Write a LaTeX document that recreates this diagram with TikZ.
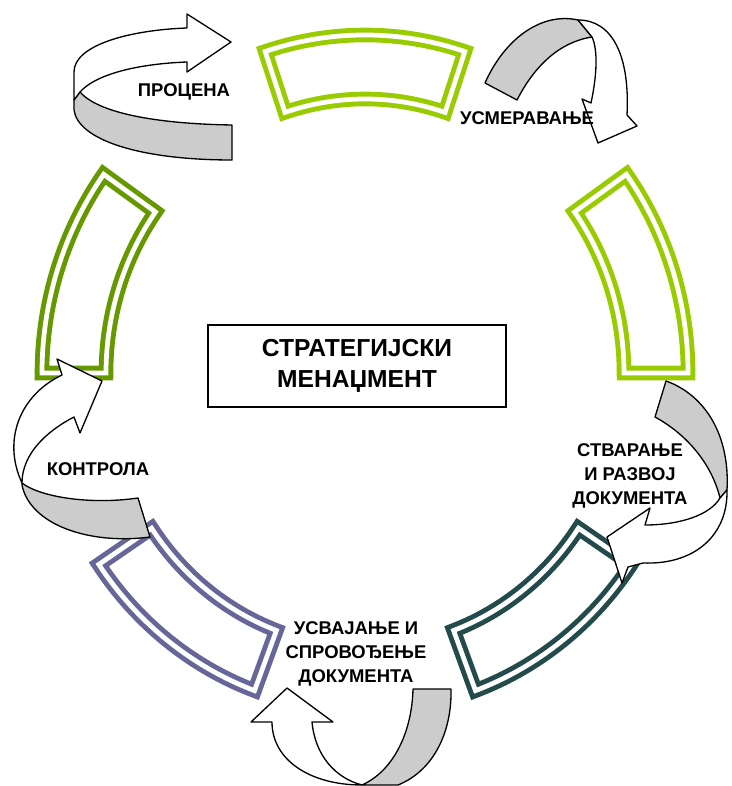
\documentclass[tikz,border=0pt]{standalone}
\usepackage{fontspec}
\setmainfont{Liberation Sans}
\usetikzlibrary{calc}
\definecolor{lgreen}{HTML}{99CC00}
\definecolor{dgreen}{HTML}{669900}
\definecolor{dteal}{HTML}{234B4B}
\definecolor{lilac}{HTML}{666699}
\tikzset{
 seg/.style={line width=2.8pt, double=white, double distance=2.7pt, line join=miter},
 rib/.style={draw=black, line width=0.75pt, line join=round},
 back/.style={rib, fill=black!20},
 front/.style={rib, fill=white},
 lbl/.style={font=\bfseries\fontsize{10.5pt}{13.5pt}\selectfont, align=center, inner sep=0pt},
}
\begin{document}
\begin{tikzpicture}[x=0.02cm, y=-0.02cm]
 \useasboundingbox (0,0) rectangle (731,786);
 \coordinate (c) at (365,373);
%
 \foreach \a/\b/\col in {-72/-108/lgreen, 0/-36/lgreen, 70/34.5/dteal, 145.5/110/lilac, -144/-180/dgreen}
  \draw[seg, draw=\col] ($(c)+(\a:323 and 338)$) arc[start angle=\a, end angle=\b, x radius=323, y radius=338]
   -- ($(c)+(\b:259 and 274)$) arc[start angle=\b, end angle=\a, x radius=259, y radius=274] -- cycle;
%
 \draw[back] (80,92) .. controls (100,115) and (165,124) .. (232,125) -- (232,160)
  .. controls (140,160) and (78,140) .. (74,110) -- (74,100) -- cycle;
 \draw[front] (74,100) -- (74,72) .. controls (74,45) and (130,30) .. (187,28) -- (187,14) -- (231,42)
  -- (187,72) -- (187,62) .. controls (135,64) and (95,75) .. (80,92) -- cycle;
%
 \draw[back] (485,83) .. controls (505,38) and (542,12) .. (578,20) -- (592,37)
  .. controls (560,42) and (535,65) .. (517,100) -- cycle;
 \draw[front] (578,20) .. controls (612,20) and (630,55) .. (627,115) -- (637,126) -- (598,143)
  -- (582,99) -- (591,103) .. controls (597,75) and (598,50) .. (592,37) -- cycle;
%
 \draw[back] (666,381) .. controls (705,395) and (730,435) .. (727,490) -- (720,498)
  .. controls (712,465) and (688,435) .. (655,417) -- cycle;
 \draw[front] (727,490) .. controls (728,535) and (695,565) .. (643,563) -- (628,567) -- (622,583)
  -- (607,537) -- (650,508) -- (645,525) .. controls (680,525) and (710,515) .. (720,498) -- cycle;
%
 \draw[back] (413,689) -- (451,689) .. controls (452,730) and (435,770) .. (398,785) -- (362,785)
  .. controls (395,770) and (412,730) .. (413,689) -- cycle;
 \draw[front] (362,785) .. controls (310,785) and (272,760) .. (272,722) -- (251,722) -- (287,688)
  -- (333,722) -- (312,722) .. controls (315,755) and (335,778) .. (362,785) -- cycle;
%
 \draw[back] (22,483) .. controls (40,497) and (90,505) .. (138,498) -- (150,537)
  .. controls (90,545) and (30,525) .. (22,485) -- cycle;
 \draw[front] (22,483) .. controls (2,440) and (20,395) .. (62,375) -- (57,359) -- (102,381)
  -- (80,433) -- (74,417) .. controls (45,432) and (22,455) .. (22,483) -- cycle;
%
 \node[draw, line width=0.75pt, minimum width=5.96cm, minimum height=1.64cm, align=center,
  font=\bfseries\fontsize{14pt}{17.5pt}\selectfont] (sm) at (357,366) {СТРАТЕГИЈСКИ\\МЕНАЏМЕНТ};
%
 \node[lbl, anchor=base] (procena) at (184,97) {ПРОЦЕНА};
 \node[lbl, anchor=base] (usmer) at (527,125) {УСМЕРАВАЊЕ};
 \node[lbl] (stvar) at (630,476) {СТВАРАЊЕ\\И РАЗВОЈ\\ДОКУМЕНТА};
 \node[lbl] (usvaj) at (356,654) {УСВАЈАЊЕ И\\СПРОВОЂЕЊЕ\\ДОКУМЕНТА};
 \node[lbl, anchor=base] (kontr) at (98,475) {КОНТРОЛА};
\end{tikzpicture}
\end{document}
